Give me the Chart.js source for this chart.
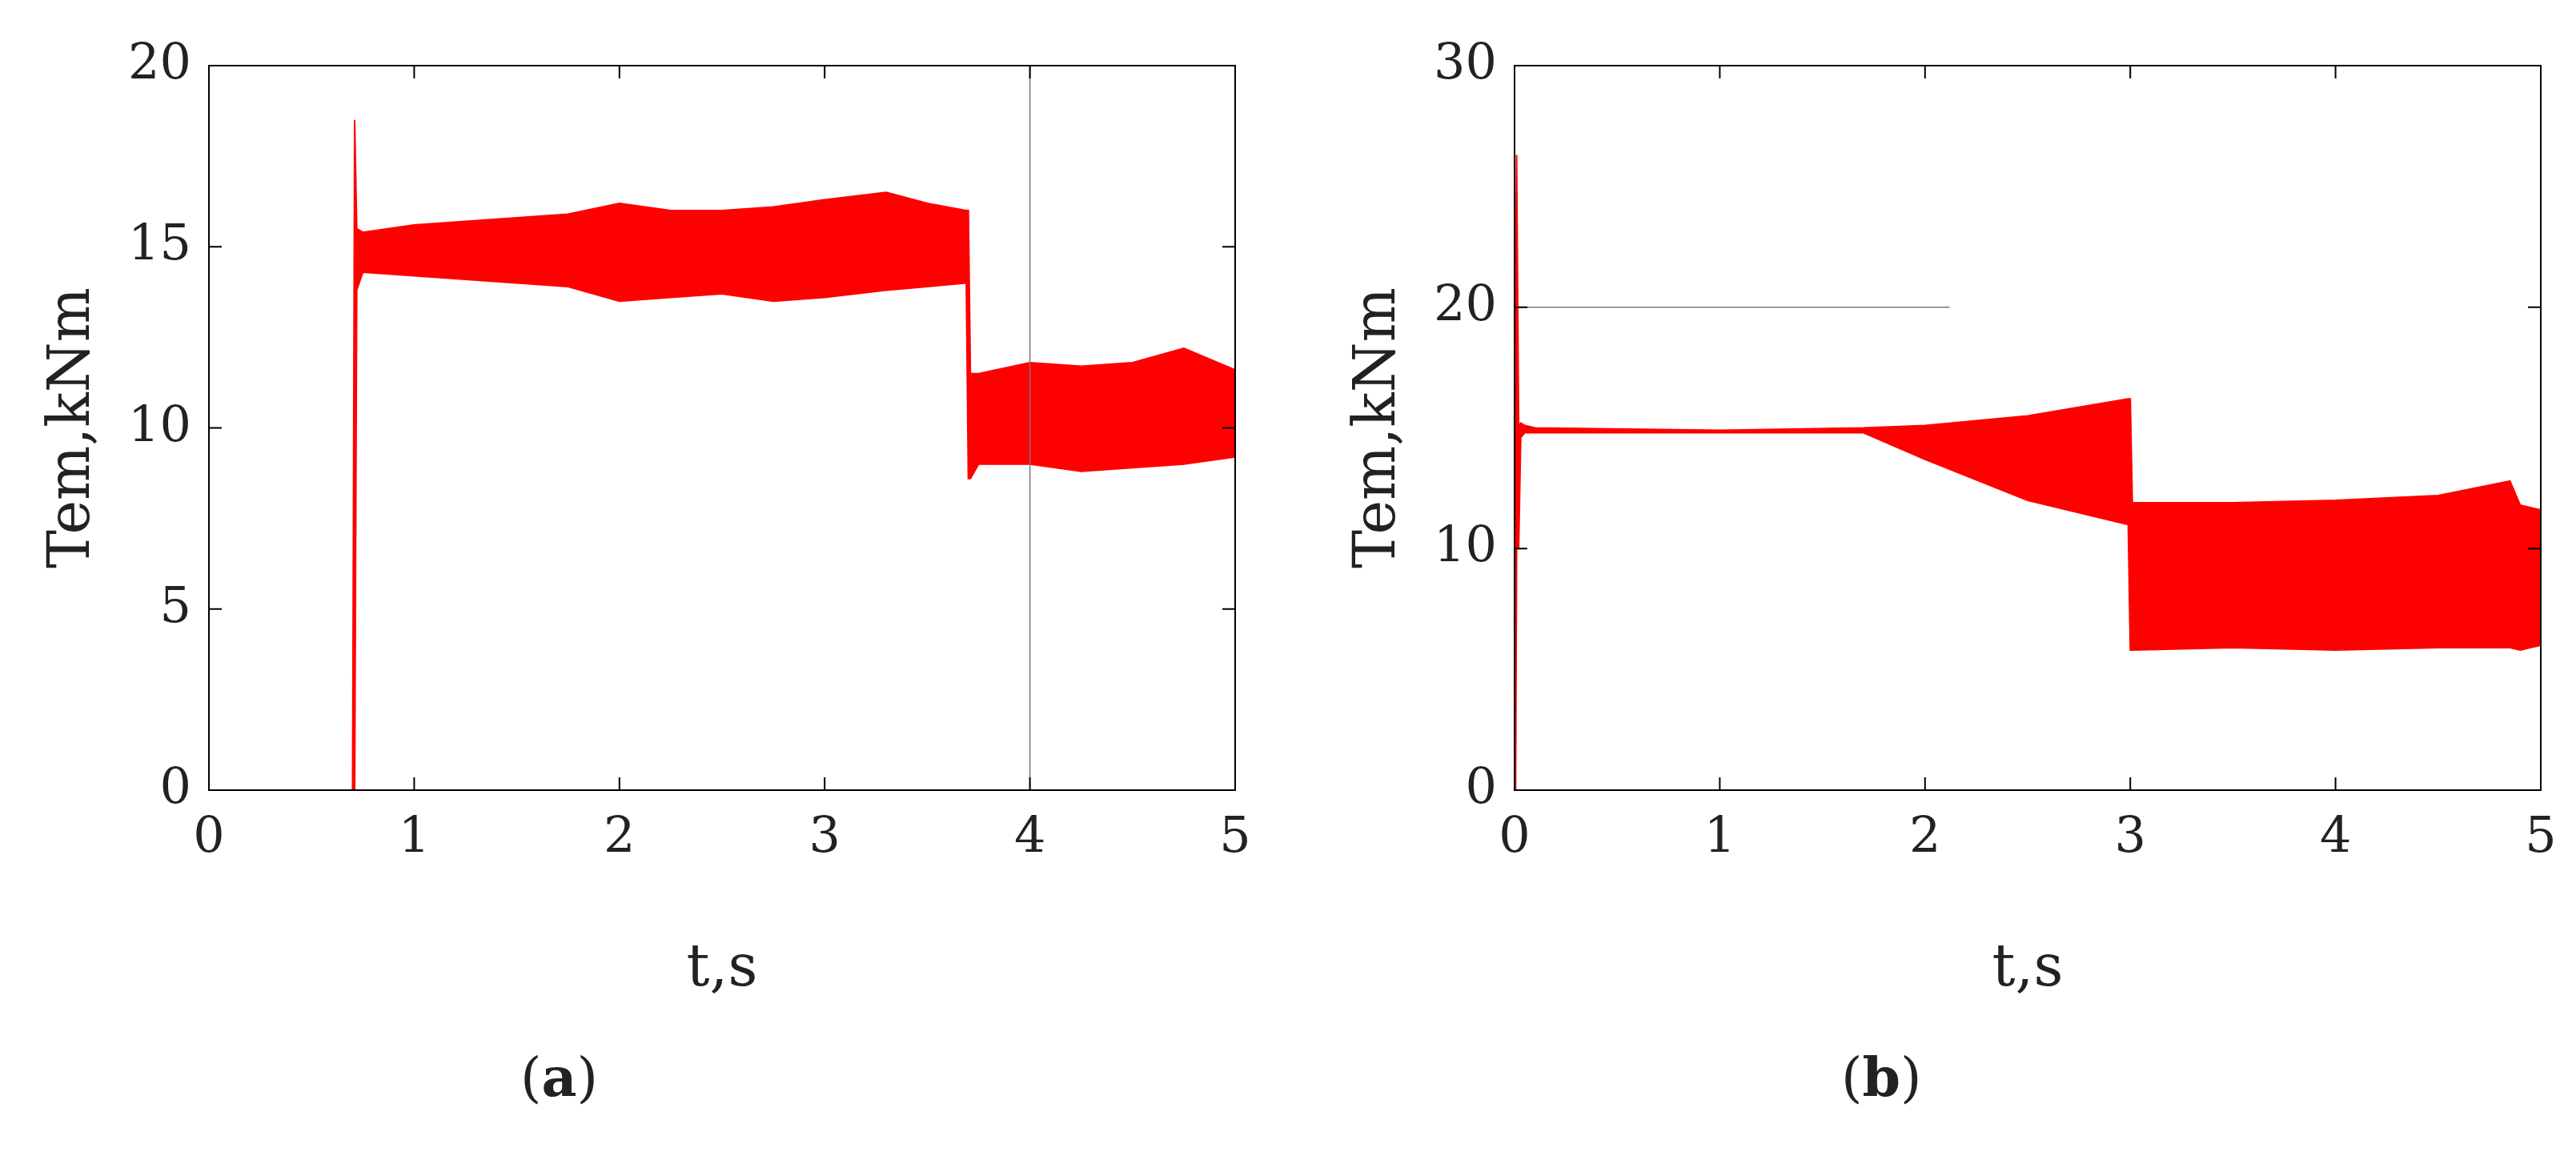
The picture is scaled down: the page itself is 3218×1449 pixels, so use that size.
<!DOCTYPE html>
<html><head><meta charset="utf-8">
<script src="https://cdn.jsdelivr.net/npm/chart.js@4/dist/chart.umd.min.js"></script>
<style>
body{margin:0;background:#fff;width:3218px;height:1449px;position:relative;overflow:hidden;font-family:"DejaVu Serif","Liberation Serif",serif}
.c{position:absolute;top:0;width:1609px;height:1449px}
.cap{position:absolute;top:1305px;font-size:68px;color:#222}
</style></head><body>
<div class="c" style="left:0"><canvas id="ca"></canvas></div>
<div class="c" style="left:1631px"><canvas id="cb"></canvas></div>
<div class="cap" style="left:650px">(<b>a</b>)</div>
<div class="cap" style="left:2300px">(<b>b</b>)</div>
<script>
const tA=[0,0.69,0.70,0.71,0.72,0.75,1.0,1.25,1.5,1.75,2.0,2.25,2.5,2.75,3.0,3.3,3.5,3.69,3.70,3.71,3.75,4.0,4.25,4.5,4.75,5.0];
const upA=[0,0,0,18.5,15.5,15.4,15.6,15.7,15.8,15.9,16.2,16.0,16.0,16.1,16.3,16.5,16.2,16.0,16.0,11.5,11.5,11.8,11.7,11.8,12.2,11.6];
const loA=[0,0,0,0,13.8,14.3,14.2,14.1,14.0,13.9,13.5,13.6,13.7,13.5,13.6,13.8,13.9,14.0,8.6,8.6,9.0,9.0,8.8,8.9,9.0,9.2];
const tB=[0,0.005,0.01,0.02,0.03,0.05,0.1,1.0,1.7,2.0,2.5,2.99,3.0,3.01,3.5,4.0,4.5,4.85,4.9,5.0];
const upB=[0,20,26.3,15,15.2,15.1,15,14.9,15,15.1,15.5,16.2,16.2,11.9,11.9,12.0,12.2,12.8,11.8,11.6];
const loB=[0,0,10,10,14.6,14.8,14.8,14.8,14.8,13.7,12.0,11.0,5.8,5.8,5.9,5.8,5.9,5.9,5.8,6.0];
const xTicks=[0,1,2,3,4,5];
const yTicksA=[0,5,10,15,20];
const yTicksB=[0,10,20,30];
const refA={x:[4,4],y:[0,20]};
const refB={x:[0,2.12],y:[20,20]};

const boxPlugin={id:'box',afterDraw(ch){
  const a=ch.chartArea,c=ch.ctx,sx=ch.scales.x,sy=ch.scales.y;
  c.save();c.strokeStyle='#000';c.lineWidth=2;
  c.strokeRect(a.left,a.top,a.right-a.left,a.bottom-a.top);
  const L=16;
  sx.ticks.forEach(t=>{const p=sx.getPixelForValue(t.value);
    c.beginPath();c.moveTo(p,a.bottom);c.lineTo(p,a.bottom-L);c.moveTo(p,a.top);c.lineTo(p,a.top+L);c.stroke();});
  sy.ticks.forEach(t=>{const p=sy.getPixelForValue(t.value);
    c.beginPath();c.moveTo(a.left,p);c.lineTo(a.left+L,p);c.moveTo(a.right,p);c.lineTo(a.right-L,p);c.stroke();});
  c.restore();}};

function mk(id,t,up,lo,yt,ymax,ref,padR){
  const pts=(xs,ys)=>xs.map((x,i)=>({x,y:ys[i]}));
  new Chart(document.getElementById(id),{type:'line',
    data:{datasets:[
      {data:pts(ref.x,ref.y),borderColor:'#777',borderWidth:1.5,pointRadius:0,fill:false},
      {data:pts(t,up),borderColor:'#ff0000',borderWidth:2,pointRadius:0,fill:false,tension:0},
      {data:pts(t,lo),borderColor:'#ff0000',borderWidth:2,pointRadius:0,fill:'-1',backgroundColor:'#ff0000',tension:0}]},
    options:{responsive:true,maintainAspectRatio:false,animation:false,
      layout:{padding:{left:45,right:padR,top:82,bottom:190}},
      plugins:{legend:{display:false},tooltip:{enabled:false}},
      scales:{
        x:{type:'linear',min:0,max:5,afterBuildTicks:s=>{s.ticks=xTicks.map(v=>({value:v}))},
          afterFit:s=>{s.height=272},grid:{display:false},border:{display:false},
          ticks:{font:{family:'DejaVu Serif',size:62},color:'#222',padding:16},
          title:{display:true,text:'t,s',font:{family:'DejaVu Serif',size:72},color:'#222',padding:{top:30}}},
        y:{type:'linear',min:0,max:ymax,afterBuildTicks:s=>{s.ticks=yt.map(v=>({value:v}))},
          afterFit:s=>{s.width=216},grid:{display:false},border:{display:false},
          ticks:{font:{family:'DejaVu Serif',size:62},color:'#222',padding:14},
          title:{display:true,text:'Tem,kNm',font:{family:'DejaVu Serif',size:72},color:'#222',padding:{bottom:10}}}}},
    plugins:[boxPlugin]});
}
mk('ca',tA,upA,loA,yTicksA,20,refA,66);
mk('cb',tB,upB,loB,yTicksB,30,refB,66);
</script></body></html>
